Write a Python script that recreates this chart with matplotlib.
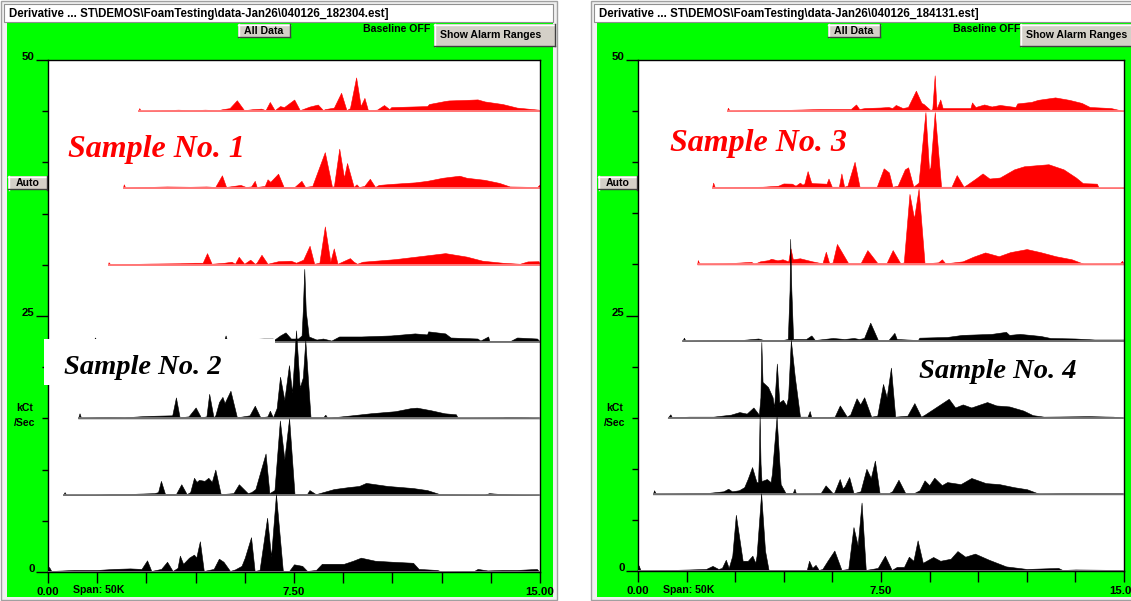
import numpy as np
import matplotlib
matplotlib.use('Agg')
import matplotlib.pyplot as plt
from matplotlib.patches import Rectangle
from matplotlib.lines import Line2D

W, H = 1131, 601

# each trace: (energy keV, kCt/Sec) points, bottom run first
# ---- left screen: Sample No. 2 (black) under Sample No. 1 (red)
s2_run1 = [(0,0),(0.03,0.5),(0.1,0.1),(0.8,0.2),(1.5,0.2),(2.0,0.3),(2.5,0.35),(2.85,0.3),(3.02,1.14),(3.15,0.1),
           (3.45,0.3),(3.63,1.0),(3.8,0.1),(3.95,0.4),(4.02,1.6),(4.12,0.8),(4.3,1.4),(4.45,1.7),(4.52,1.4),(4.63,3.0),
           (4.75,0.1),(5.05,0.3),(5.21,1.3),(5.35,1.0),(5.55,0.1),(5.7,0.25),(5.9,0.6),(6.0,1.4),(6.19,3.4),(6.3,0.1),
           (6.45,0.2),(6.68,5.3),(6.8,1.5),(6.95,7.6),(7.16,0.1),(7.35,0.1),(7.5,0.75),(7.75,0.6),(7.9,0.1),(8.17,0.2),
           (8.35,0.8),(9.02,0.8),(9.3,1.1),(9.54,1.4),(9.97,1.1),(10.5,1.0),(11.13,0.9),(11.3,0.3),(11.86,0.2),(12.0,0.05),
           (12.99,0.1),(13.1,0.3),(13.4,0.15),(13.84,0.2),(14.3,0.2),(14.9,0.3),(15,0)]
s2_run2 = [(0,0),(0.05,0.3),(0.1,0.05),(1.0,0.05),(1.5,0.1),(2.0,0.1),(2.36,0.15),(2.87,0.2),(2.99,0.3),(3.08,1.4),
           (3.21,0.1),(3.55,0.1),(3.72,1.07),(3.89,0.1),(4.0,0.3),(4.12,1.7),(4.2,1.3),(4.28,1.5),(4.45,1.4),(4.57,1.7),
           (4.68,1.3),(4.79,2.5),(4.96,0.1),(5.36,0.2),(5.53,1.07),(5.81,0.2),(5.92,0.3),(6.05,0.6),(6.37,4.07),(6.49,0.2),
           (6.65,0.5),(6.82,7.3),(6.96,3.5),(7.11,7.5),(7.28,0.1),(7.67,0.1),(7.75,0.5),(7.95,0.1),(8.52,0.6),(9.0,0.8),
           (9.31,0.9),(9.53,1.2),(10.21,0.9),(11.0,0.7),(11.45,0.5),(11.85,0.1),(13.26,0.05),(13.4,0.2),(13.82,0.1),(15,0)]
s2_run3 = [(0,0),(0.05,0.5),(0.1,0.05),(0.5,0.1),(1.0,0.15),(1.5,0.1),(2.0,0.2),(2.36,0.25),(3.06,0.3),(3.18,2.05),
           (3.30,0.1),(3.59,0.2),(3.82,1.07),(3.99,0.1),(4.17,0.2),(4.26,2.4),(4.40,0.1),(4.46,0.3),(4.58,1.6),(4.69,2.1),
           (4.76,1.5),(4.95,2.7),(5.16,0.1),(5.57,0.3),(5.74,1.24),(5.92,0.1),(6.15,0.2),(6.23,0.75),(6.33,0.1),(6.45,1.0),
           (6.56,4.07),(6.70,1.8),(6.85,5.2),(6.95,2.5),(7.08,8.6),(7.20,3.0),(7.30,4.0),(7.38,7.6),(7.55,0.1),(7.96,0.1),
           (8.03,0.36),(8.10,0.05),(8.89,0.3),(9.5,0.5),(10.29,0.7),(10.8,1.0),(11.0,1.05),(11.45,0.8),(11.9,0.5),(12.27,0.4),
           (12.33,0.05),(13.79,0.1),(13.9,0.15),(14.6,0.1),(15,0)]
s2_run4 = [(0,0),(0.07,0.4),(0.12,0.05),(1.5,0.15),(3.0,0.2),(4.4,0.1),(4.45,0.6),(4.5,0.1),(5.0,0.2),(5.73,0.3),
           (6.03,0.3),(6.09,0.2),(6.28,0.6),(6.46,0.9),(6.64,0.3),(6.88,0.3),(7.0,0.6),(7.04,3.0),(7.09,7.1),(7.14,3.0),
           (7.24,0.5),(7.5,0.2),(7.72,0.3),(8.0,0.1),(8.26,0.5),(9.0,0.5),(10.0,0.6),(10.8,0.8),(11.21,0.7),(11.25,1.0),
           (11.82,0.8),(12.0,0.4),(12.9,0.3),(13.0,0.1),(13.26,0.5),(13.3,0.05),(14.0,0.05),(14.23,0.4),(14.9,0.3),(15,0)]
s1_run1 = [(0,0),(0.02,0.25),(0.08,0.05),(1.5,0.12),(2.5,0.15),(3.0,0.2),(3.29,0.2),(3.44,1.14),(3.60,0.1),(4.04,0.2),
           (4.29,0.3),(4.41,0.1),(4.54,0.78),(4.73,0.1),(4.94,0.5),(5.10,0.1),(5.16,0.2),(5.33,0.98),(5.54,0.1),(5.91,0.35),
           (6.35,0.4),(6.53,0.2),(6.78,0.5),(7.0,1.86),(7.16,0.1),(7.34,0.2),(7.53,3.75),(7.72,0.3),(7.84,1.6),(7.97,0.1),
           (8.40,0.65),(8.53,0.3),(8.65,0.1),(8.84,0.3),(9.96,0.55),(11.0,0.9),(11.71,1.14),(12.45,0.8),(13.0,0.4),(13.70,0.2),
           (14.3,0.1),(14.57,0.33),(14.95,0.35),(15,0)]
s1_run2 = [(0,0),(0.03,0.36),(0.08,0.05),(1.58,0.15),(2.42,0.12),(3.0,0.15),(3.32,0.1),(3.56,1.24),(3.71,0.1),(4.23,0.3),
           (4.42,0.1),(4.61,0.15),(4.74,0.7),(4.81,0.1),(5.10,0.2),(5.20,0.85),(5.30,0.6),(5.58,1.4),(5.78,0.1),(6.17,0.1),
           (6.42,0.7),(6.55,0.1),(6.81,0.2),(7.26,3.5),(7.52,0.1),(7.59,0.2),(7.78,3.84),(7.95,1.0),(8.06,2.44),(8.30,0.1),
           (8.40,0.36),(8.49,0.1),(8.68,0.2),(8.88,0.9),(9.07,0.1),(9.20,0.3),(9.65,0.4),(10.5,0.55),(10.94,0.7),(11.5,1.0),
           (12.10,1.2),(12.36,1.0),(13.0,0.8),(13.53,0.5),(13.91,0.15),(14.9,0.1),(14.97,0.3),(15,0)]
s1_run3 = [(0,0),(0.05,0.3),(0.1,0.05),(1.0,0.1),(1.5,0.15),(2.0,0.1),(2.5,0.15),(3.0,0.1),(3.16,0.2),(3.42,0.3),
           (3.69,1.07),(3.96,0.1),(4.29,0.2),(4.6,0.25),(4.76,0.1),(4.92,0.9),(5.10,0.1),(5.30,0.5),(5.45,0.4),(5.83,1.14),
           (6.04,0.1),(6.40,0.45),(6.71,0.65),(6.91,0.1),(6.97,0.2),(7.31,0.35),(7.58,1.8),(7.78,0.1),(7.91,0.3),(8.14,3.3),
           (8.31,0.5),(8.45,1.3),(8.58,0.1),(8.92,0.15),(9.18,0.6),(9.38,0.2),(9.45,0.4),(10.79,0.5),(10.86,0.7),(11.46,1.0),
           (11.6,1.05),(12.2,1.1),(12.67,1.15),(12.94,0.95),(13.6,0.7),(14.14,0.35),(14.94,0.15),(15,0)]

# ---- right screen: Sample No. 4 (black) under Sample No. 3 (red)
s4_run1 = [(0,0),(0.02,0.55),(0.08,0.05),(1.0,0.1),(1.6,0.15),(2.10,0.2),(2.3,0.5),(2.48,0.2),(2.59,0.3),(2.71,1.1),
           (2.80,0.3),(2.91,1.5),(3.02,5.5),(3.23,1.0),(3.39,1.0),(3.53,1.5),(3.62,0.8),(3.66,1.5),(3.80,7.6),(3.92,2.0),
           (4.03,0.1),(5.21,0.1),(5.28,1.0),(5.38,0.3),(5.48,0.6),(5.58,0.1),(5.69,0.2),(5.85,1.0),(6.06,2.0),(6.28,0.1),
           (6.49,0.2),(6.65,4.3),(6.78,2.5),(6.90,6.7),(7.03,0.1),(7.40,0.3),(7.62,1.5),(7.83,0.1),(7.99,0.4),(8.21,0.4),
           (8.36,1.4),(8.50,1.0),(8.63,3.0),(8.79,0.8),(9.11,1.37),(9.33,1.0),(9.65,1.2),(9.86,1.95),(10.1,1.4),(10.40,1.7),
           (10.83,1.1),(11.36,0.45),(12.0,0.2),(12.97,0.3),(13.1,0.1),(13.5,0.15),(15,0.1)]
s4_run2 = [(0,0),(0.04,0.4),(0.1,0.05),(0.97,0.1),(1.8,0.15),(2.25,0.3),(2.4,0.55),(2.52,0.3),(2.74,0.4),(2.91,0.7),
           (3.02,1.5),(3.16,2.67),(3.30,1.2),(3.35,1.2),(3.38,4.0),(3.40,7.8),(3.43,3.0),(3.46,1.3),(3.63,1.5),(3.75,1.2),
           (3.79,2.0),(3.94,7.6),(4.07,1.0),(4.23,0.1),(4.45,0.1),(4.51,0.55),(4.56,0.05),(5.34,0.1),(5.50,0.88),(5.73,0.1),
           (5.78,0.2),(5.95,1.5),(6.04,0.6),(6.11,0.8),(6.25,1.7),(6.39,0.1),(6.61,0.3),(6.80,2.5),(6.94,1.6),(7.07,3.3),
           (7.22,0.1),(7.5,0.1),(7.62,0.3),(7.82,1.43),(8.04,0.1),(8.3,0.1),(8.49,0.4),(8.65,1.37),(8.8,0.9),(8.96,1.63),
           (9.2,0.9),(9.37,1.2),(9.8,1.0),(10.14,1.6),(10.6,1.1),(11.03,1.0),(11.5,0.7),(11.91,0.5),(12.30,0.05),(13.34,0.15),
           (14.95,0.15),(15,0)]
s4_run3 = [(0,0),(0.09,0.33),(0.14,0.05),(0.71,0.1),(1.5,0.1),(2.08,0.3),(2.36,0.55),(2.6,0.4),(2.82,1.0),(3.0,0.3),
           (3.05,2.0),(3.08,7.4),(3.12,3.5),(3.30,3.0),(3.45,2.0),(3.50,1.0),(3.59,5.3),(3.67,1.5),(3.79,1.75),(3.90,1.2),
           (3.96,2.0),(4.05,7.6),(4.18,4.0),(4.35,0.1),(4.60,0.1),(4.67,0.65),(4.72,0.05),(5.49,0.1),(5.66,1.2),(5.89,0.1),
           (6.0,0.3),(6.21,1.9),(6.33,1.3),(6.46,2.0),(6.69,0.1),(6.89,0.2),(7.08,3.3),(7.2,2.0),(7.34,4.9),(7.48,0.1),
           (7.88,0.2),(8.11,1.43),(8.33,0.1),(8.45,0.3),(8.96,1.3),(9.24,1.85),(9.45,1.0),(9.70,1.3),(9.98,1.0),(10.5,1.53),
           (10.8,1.2),(11.23,1.1),(11.69,0.7),(12.0,0.25),(12.37,0.1),(13.85,0.15),(14.65,0.1),(15,0)]
s4_run4 = [(0,0),(0.05,0.33),(0.1,0.05),(1.0,0.1),(2.0,0.1),(2.58,0.25),(2.76,0.1),(3.4,0.1),(3.58,0.2),(3.64,5.0),
           (3.66,10.0),(3.70,5.0),(3.76,0.2),(4.2,0.2),(4.38,0.55),(4.5,0.1),(5.11,0.3),(5.5,0.2),(5.82,0.3),(6.0,0.2),
           (6.17,0.3),(6.38,1.8),(6.64,0.1),(7.0,0.1),(7.20,0.8),(7.28,0.2),(8.0,0.1),(8.05,0.33),(8.99,0.4),(9.5,0.6),
           (10.5,0.7),(10.99,0.9),(11.1,0.6),(11.46,0.7),(12.16,0.5),(12.5,0.3),(13.34,0.25),(14.0,0.15),(15,0.15)]
s3_run1 = [(0,0),(0.02,0.42),(0.08,0.05),(1.0,0.1),(1.9,0.25),(2.0,0.05),(2.21,0.3),(2.5,0.42),(2.6,0.55),(2.82,0.4),
           (3.0,0.5),(3.2,0.3),(3.28,1.56),(3.36,0.5),(3.61,0.6),(4.04,0.3),(4.40,0.1),(4.52,1.24),(4.64,0.1),(4.76,0.2),
           (4.91,2.0),(5.31,0.1),(5.74,0.1),(5.98,1.4),(6.34,0.1),(6.65,0.1),(6.87,1.4),(7.14,0.1),(7.26,0.2),(7.46,6.9),
           (7.62,4.5),(7.78,7.4),(7.99,0.1),(8.47,0.2),(8.6,0.5),(8.72,0.1),(9.33,0.3),(9.7,0.75),(10.12,1.17),(10.6,0.8),
           (11.0,1.2),(11.58,1.5),(12.06,1.2),(12.6,0.8),(13.16,0.5),(13.59,0.05),(14.85,0.1),(14.93,0.35),(15,0)]
s3_run2 = [(0,0),(0.04,0.5),(0.1,0.05),(1.84,0.1),(2.41,0.2),(2.6,0.42),(2.91,0.4),(3.04,0.2),(3.2,0.5),(3.29,0.3),
           (3.36,0.4),(3.48,1.63),(3.61,0.5),(3.67,0.45),(4.17,0.4),(4.24,0.9),(4.36,0.1),(4.62,0.1),(4.71,1.4),(4.81,0.1),
           (4.93,0.2),(5.19,2.54),(5.37,0.1),(6.0,0.1),(6.25,1.9),(6.44,1.5),(6.57,0.1),(6.76,0.2),(7.02,1.8),(7.14,2.0),
           (7.33,0.1),(7.52,0.5),(7.77,7.4),(7.90,1.8),(7.95,2.0),(8.11,7.4),(8.34,0.1),(8.72,0.1),(8.91,1.24),(9.16,0.1),
           (9.28,0.3),(9.6,0.9),(9.85,1.4),(10.1,0.9),(10.48,1.0),(11.0,1.8),(11.36,2.1),(11.8,2.2),(12.25,2.3),(12.8,1.8),
           (13.25,1.0),(13.5,0.45),(14.01,0.4),(14.08,0.0),(15,0)]
s3_run3 = [(0,0),(0.04,0.33),(0.1,0.05),(1.0,0.1),(2.0,0.1),(2.72,0.15),(3.5,0.2),(4.2,0.2),(4.68,0.2),(4.88,0.65),
           (5.0,0.2),(5.21,0.3),(5.8,0.35),(6.1,0.4),(6.25,0.3),(6.38,0.6),(6.64,0.3),(6.84,0.4),(7.14,2.0),(7.35,0.8),
           (7.43,0.7),(7.69,0.1),(7.76,0.2),(7.85,3.5),(7.92,0.2),(8.06,1.14),(8.15,0.3),(8.22,0.3),(9.0,0.3),(9.2,0.3),
           (9.26,0.85),(9.39,0.4),(9.72,0.65),(10.0,0.45),(10.31,0.6),(10.90,0.4),(10.97,0.75),(11.5,0.9),(11.75,1.1),
           (12.40,1.34),(12.93,1.1),(13.4,0.8),(13.71,0.4),(14.5,0.3),(15,0)]

left_runs = [s2_run1, s2_run2, s2_run3, s2_run4, s1_run1, s1_run2, s1_run3]
right_runs = [s4_run1, s4_run2, s4_run3, s4_run4, s3_run1, s3_run2, s3_run3]
run_colors = ['black'] * 4 + ['#ff0000'] * 3
base_colors = ['#7a7a7a'] * 4 + ['#ff8080'] * 3

left_title = r'Derivative ... ST\DEMOS\FoamTesting\data-Jan26\040126_182304.est]'
right_title = r'Derivative ... ST\DEMOS\FoamTesting\data-Jan26\040126_184131.est]'

GREEN = '#00ff00'
FACE = '#d4d0c8'
ui = dict(family='Liberation Sans', weight='bold', size=7.6)
big = dict(family='Liberation Serif', style='italic', weight='bold')

fig = plt.figure(figsize=(W / 100, H / 100), dpi=100)
fig.patch.set_facecolor('white')


def frect(x0, y0, x1, y1, **kw):
    kw.setdefault('zorder', -5)
    fig.add_artist(Rectangle((x0 / W, 1 - y1 / H), (x1 - x0) / W, (y1 - y0) / H,
                             transform=fig.transFigure, **kw))


def fline(xs, ys, **kw):
    fig.add_artist(Line2D([x / W for x in xs], [1 - y / H for y in ys],
                          transform=fig.transFigure, zorder=-3, **kw))


def ftext(x, y, s, **kw):
    fig.text(x / W, 1 - y / H, s, **kw)


def button(x0, y0, x1, y1, label, text_x=None):
    frect(x0, y0, x1, y1, facecolor=FACE, edgecolor='none', zorder=-4)
    fline([x0, x1], [y0 + 0.5, y0 + 0.5], color='white', lw=1)
    fline([x0 + 0.5, x0 + 0.5], [y0, y1], color='white', lw=1)
    fline([x0, x1], [y1 - 0.5, y1 - 0.5], color='#404040', lw=1)
    fline([x1 - 0.5, x1 - 0.5], [y0, y1], color='#404040', lw=1)
    if text_x is None:
        ftext((x0 + x1) / 2, (y0 + y1) / 2 + 0.5, label, ha='center', va='center', **ui)
    else:
        ftext(text_x, (y0 + y1) / 2 + 0.5, label, ha='left', va='center', **ui)


def draw_screen(dx, plot_w, plot_bottom, runs, title, lab_top, alarm_x0):
    # window chrome
    frect(dx + 1, 1, dx + 557, 600, facecolor='#f0f0f0', edgecolor='#a0a0a0', lw=1, zorder=-6)
    frect(dx + 7, 23, dx + 553, 597, facecolor=GREEN, edgecolor='none')
    frect(dx + 4, 4, dx + 553, 22, facecolor='white', edgecolor='#909090', lw=0.8)
    ftext(dx + 9, 13.5, title, ha='left', va='center',
          family='Liberation Sans', weight='bold', size=8.3)
    button(dx + 238, 24, dx + 290, 37, 'All Data')
    ftext(dx + 363, 29, 'Baseline OFF', ha='left', va='center', **ui)
    button(alarm_x0, 24, alarm_x0 + 121, 46, 'Show Alarm Ranges', text_x=alarm_x0 + 6.5)
    button(dx + 8, 176, dx + 47, 190, 'Auto')

    top = 60
    ax = fig.add_axes([(dx + 48) / W, 1 - plot_bottom / H, plot_w / W, (plot_bottom - top) / H])
    ax.set_facecolor('white')
    ax.set_xlim(0, 15)
    ax.set_ylim(0, 50)
    for sp in ax.spines.values():
        sp.set_color('black')
        sp.set_linewidth(1)

    # waterfall: each run shifted right and up, lower runs painted over upper ones
    shift, step = 0.457, 7.5
    n = len(runs)
    for k in range(n - 1, -1, -1):
        e, c = np.array(runs[k], dtype=float).T
        x0 = k * shift
        x = x0 + e * (15 - x0) / 15
        off = k * step
        z = 2 + (n - k) * 0.1
        ax.fill_between(x, off, off + c, color=run_colors[k], lw=0.4, edgecolor=run_colors[k], zorder=z)
        ax.plot([x0, 15], [off, off], color=base_colors[k], lw=1.3, zorder=z + 0.05,
                solid_capstyle='butt')

    xt = np.arange(0, 15.01, 1.5)
    ax.set_xticks(xt)
    ax.set_xticklabels(['0.00', '', '', '', '', '7.50', '', '', '', '', '15.00'])
    ax.set_yticks([0, 25, 50])
    ax.set_yticklabels(['0', '25', '50'])
    ax.set_yticks(np.arange(0, 50.1, 5), minor=True)
    ax.tick_params(axis='x', length=8, width=1, pad=3, colors='black')
    ax.tick_params(axis='y', which='major', length=9, width=1, pad=0.5)
    ax.tick_params(axis='y', which='minor', length=4, width=1)
    for lab in ax.get_xticklabels() + ax.get_yticklabels():
        lab.set_fontfamily('Liberation Sans')
        lab.set_fontweight('bold')
        lab.set_fontsize(8.2)
    for lab in ax.get_yticklabels():
        lab.set_verticalalignment('baseline')

    pw = plot_w
    ph = plot_bottom - top
    ax.text(-23 / pw, (plot_bottom - 408) / ph, 'kCt', transform=ax.transAxes, ha='center',
            va='center', clip_on=False, **ui)
    ax.text(-23 / pw, (plot_bottom - 423) / ph, '/Sec', transform=ax.transAxes, ha='center',
            va='center', clip_on=False, **ui)
    ax.text(25 / pw, (plot_bottom - 590) / ph, 'Span: 50K', transform=ax.transAxes, ha='left',
            va='center', clip_on=False, **ui)

    ax.text(lab_top[0] / pw, (plot_bottom - lab_top[1]) / ph, lab_top[2], transform=ax.transAxes,
            ha='left', va='baseline', color='#ff0000', fontsize=23, zorder=20, **big)
    return ax, pw, ph


axL, pwL, phL = draw_screen(0, 492, 572, left_runs, left_title, (20, 157, 'Sample No. 1'), 434)
# white patch pasted behind the second label
axL.add_patch(Rectangle((-4 / pwL, (572 - 385) / phL), 231 / pwL, 46 / phL, transform=axL.transAxes,
                        facecolor='white', edgecolor='none', zorder=10, clip_on=False))
axL.text(16 / pwL, (572 - 374) / phL, 'Sample No. 2', transform=axL.transAxes, ha='left',
         va='baseline', color='black', fontsize=20.5, zorder=11, **big)

axR, pwR, phR = draw_screen(590, 486, 571, right_runs, right_title, (32, 151, 'Sample No. 3'), 1020)
axR.text(281 / pwR, (571 - 378) / phR, 'Sample No. 4', transform=axR.transAxes, ha='left',
         va='baseline', color='black', fontsize=20.5, zorder=11, **big)

fig.savefig('out.png', dpi=100, facecolor='white')
